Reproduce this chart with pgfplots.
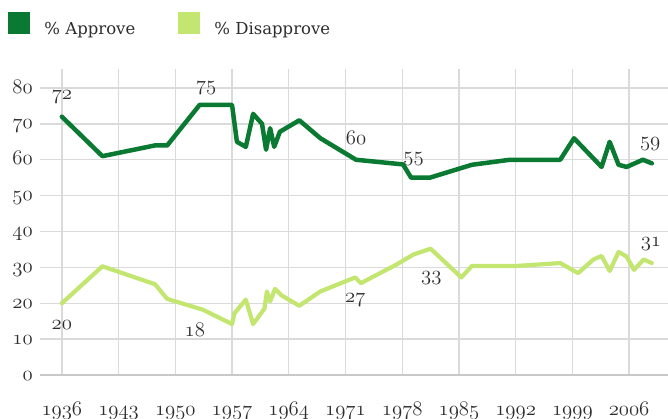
\documentclass[border=0pt]{standalone}
\usepackage{fontspec}
\newfontfamily\legfont{DejaVu Serif}
\usepackage{pgfplots}
\pgfplotsset{compat=1.18}
\definecolor{appr}{RGB}{10,122,50}
\definecolor{disp}{RGB}{194,230,112}
\definecolor{gridc}{RGB}{218,218,218}
\definecolor{zeroc}{RGB}{200,200,200}
\definecolor{txt}{RGB}{45,45,45}
\newcommand{\osn}[1]{{\usefont{OML}{cmm}{m}{it}#1}}
\newcommand{\numfont}{\fontsize{20}{20}\selectfont}
\begin{document}
\begin{tikzpicture}
\path[use as bounding box] (-40pt,-43pt) rectangle (628pt,375pt);
\begin{axis}[
  scale only axis, width=628pt, height=306pt,
  xmin=1933.3, xmax=2010.8, ymin=0, ymax=85.3,
  axis line style={draw=none},
  tick style={draw=none},
  xtick={1936,1943,1950,1957,1964,1971,1978,1985,1992,1999,2006},
  xticklabels={\osn{1936},\osn{1943},\osn{1950},\osn{1957},\osn{1964},\osn{1971},\osn{1978},\osn{1985},\osn{1992},\osn{1999},\osn{2006}},
  ytick={10,20,30,40,50,60,70,80},
  yticklabels={\osn{10},\osn{20},\osn{30},\osn{40},\osn{50},\osn{60},\osn{70},\osn{80}},
  xmajorgrids, ymajorgrids,
  major grid style={gridc, line width=1.3pt},
  xticklabel style={font=\numfont, text=txt, anchor=base, yshift=-40pt, inner sep=0pt},
  yticklabel style={font=\numfont, text=txt, anchor=base east, xshift=-7pt, yshift=-5pt, inner sep=0pt},
  clip=false,
  legend columns=2,
  legend style={at={(-0.05096,1.18627)}, anchor=north west, draw=none, fill=none, inner sep=0pt,
    font=\legfont\fontsize{16.5}{20}\selectfont, text=txt,
    nodes={inner sep=0pt},
    /tikz/every even column/.append style={column sep=43pt}},
  legend image code/.code={\fill[#1, draw=none] (0pt,-5.5pt) rectangle (22pt,16.5pt); \path (34pt,0pt);},
]
\draw[zeroc, line width=2pt] (axis cs:1933.3,0) -- (axis cs:2010.8,0);
\node[font=\numfont, text=txt, anchor=base east, inner sep=0pt] at ([xshift=-7pt,yshift=-5pt]axis cs:1933.3,0) {\osn{0}};

\addplot[appr, line width=4.5pt, line join=round, line cap=round] coordinates {
(1936,72) (1941,61) (1947.5,64) (1949,64) (1953,75.3) (1957,75.3) (1957.6,65) (1958.7,63.6)
(1959.6,72.8) (1960.7,70) (1961.2,62.8) (1961.7,68.8) (1962.2,63.6) (1962.9,67.8) (1965.3,71)
(1967.9,66) (1972.3,60) (1978.1,58.7) (1979.1,55) (1981.4,55) (1986.6,58.6) (1991.3,60)
(1997.5,60) (1999.2,66) (2002.6,58) (2003.6,65) (2004.7,58.6) (2005.7,58) (2007.7,60) (2008.8,59)
};
\addlegendentry{\% Approve}
\addplot[disp, line width=4.2pt, line join=round, line cap=round] coordinates {
(1936,20) (1941,30.3) (1947.5,25.3) (1949,21.2) (1953.4,18.2) (1957,14.2) (1957.3,17.2) (1958.7,21)
(1959.6,14.2) (1961,18.5) (1961.3,23.3) (1961.7,20.5) (1962.3,24) (1963.1,22.2) (1965.3,19.3)
(1967.9,23.3) (1972.2,27.2) (1972.9,25.6) (1977.3,30.8) (1979.4,33.6) (1981.5,35.2) (1985.3,27.2)
(1986.6,30.4) (1992.1,30.4) (1997.5,31.2) (1999.7,28.4) (2001.6,32.2) (2002.6,33.2) (2003.6,29)
(2004.7,34.3) (2005.7,33) (2006.6,29.3) (2007.8,32.2) (2008.8,31.2)
};
\addlegendentry{\% Disapprove}

\node[font=\numfont, text=txt] at (axis cs:1936,77.5) {\osn{72}};
\node[font=\numfont, text=txt] at (axis cs:1953.8,80.1) {\osn{75}};
\node[font=\numfont, text=txt] at (axis cs:1972.3,66.2) {\osn{60}};
\node[font=\numfont, text=txt] at (axis cs:1979.4,60.2) {\osn{55}};
\node[font=\numfont, text=txt] at (axis cs:2008.6,64.4) {\osn{59}};
\node[font=\numfont, text=txt] at (axis cs:1936,13.9) {\osn{20}};
\node[font=\numfont, text=txt] at (axis cs:1952.4,12.5) {\osn{18}};
\node[font=\numfont, text=txt] at (axis cs:1972.2,20.8) {\osn{27}};
\node[font=\numfont, text=txt] at (axis cs:1981.6,27) {\osn{33}};
\node[font=\numfont, text=txt] at (axis cs:2008.7,36.5) {\osn{31}};
\end{axis}
\end{tikzpicture}
\end{document}
